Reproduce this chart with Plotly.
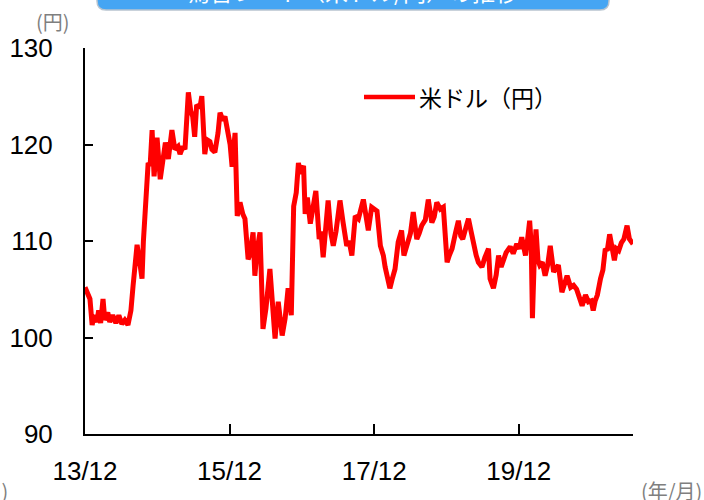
import plotly.graph_objects as go

# ---- data ----
dates = [
    "2013-12-31", "2014-01-15", "2014-01-25", "2014-02-05", "2014-02-15", "2014-03-01",
    "2014-03-10", "2014-03-20", "2014-04-01", "2014-04-10", "2014-04-25", "2014-05-05",
    "2014-05-20", "2014-06-05", "2014-06-20", "2014-07-05", "2014-07-20", "2014-08-05",
    "2014-08-20", "2014-08-31", "2014-09-10", "2014-09-20", "2014-09-30", "2014-10-15",
    "2014-10-22", "2014-11-01", "2014-11-15", "2014-11-25", "2014-12-05", "2014-12-15",
    "2014-12-30", "2015-01-15", "2015-01-25", "2015-02-10", "2015-02-25", "2015-03-15",
    "2015-03-30", "2015-04-15", "2015-04-25", "2015-05-10", "2015-05-20", "2015-05-30",
    "2015-06-06", "2015-06-18", "2015-06-28", "2015-07-08", "2015-07-18", "2015-08-03",
    "2015-08-13", "2015-08-28", "2015-09-08", "2015-09-23", "2015-10-03", "2015-10-18",
    "2015-11-03", "2015-11-13", "2015-11-28", "2015-12-08", "2015-12-23", "2016-01-03",
    "2016-01-13", "2016-01-28", "2016-02-08", "2016-02-22", "2016-03-07", "2016-03-18",
    "2016-04-03", "2016-04-12", "2016-04-28", "2016-05-07", "2016-05-18", "2016-06-02",
    "2016-06-17", "2016-07-02", "2016-07-22", "2016-08-07", "2016-08-17", "2016-09-02",
    "2016-09-22", "2016-10-07", "2016-10-22", "2016-11-07", "2016-11-19", "2016-12-02",
    "2016-12-13", "2016-12-22", "2017-01-08", "2017-01-16", "2017-01-27", "2017-02-11",
    "2017-02-26", "2017-03-11", "2017-03-28", "2017-04-06", "2017-04-17", "2017-05-01",
    "2017-05-12", "2017-05-26", "2017-06-07", "2017-06-21", "2017-07-11", "2017-07-26",
    "2017-08-14", "2017-08-26", "2017-09-09", "2017-09-26", "2017-10-12", "2017-11-06",
    "2017-11-21", "2017-12-01", "2017-12-18", "2018-01-14", "2018-01-31", "2018-02-15",
    "2018-02-24", "2018-03-20", "2018-03-31", "2018-04-15", "2018-05-01", "2018-05-18",
    "2018-05-30", "2018-06-21", "2018-07-02", "2018-07-16", "2018-08-03", "2018-08-15",
    "2018-08-28", "2018-09-15", "2018-09-30", "2018-10-18", "2018-10-30", "2018-11-12",
    "2018-11-30", "2018-12-15", "2019-01-03", "2019-01-14", "2019-01-28", "2019-02-14",
    "2019-03-01", "2019-03-13", "2019-03-23", "2019-04-07", "2019-04-21", "2019-05-04",
    "2019-05-16", "2019-05-30", "2019-06-10", "2019-06-28", "2019-07-13", "2019-07-31",
    "2019-08-08", "2019-08-25", "2019-09-08", "2019-09-20", "2019-10-03", "2019-10-15",
    "2019-10-28", "2019-11-18", "2019-12-03", "2019-12-21", "2020-01-03", "2020-01-15",
    "2020-02-03", "2020-02-12", "2020-02-24", "2020-03-03", "2020-03-09", "2020-03-18",
    "2020-03-27", "2020-04-06", "2020-04-15", "2020-04-28", "2020-05-12", "2020-05-25",
    "2020-06-07", "2020-06-24", "2020-07-07", "2020-07-18", "2020-08-05", "2020-08-18",
    "2020-08-31", "2020-09-18", "2020-10-03", "2020-10-18", "2020-10-31", "2020-11-15",
    "2020-12-02", "2020-12-17", "2020-12-31", "2021-01-10", "2021-01-20", "2021-01-31",
    "2021-02-16", "2021-02-28", "2021-03-12", "2021-03-22", "2021-04-03", "2021-04-14",
    "2021-04-27", "2021-05-07", "2021-05-19", "2021-06-01", "2021-06-14", "2021-06-30",
    "2021-07-12", "2021-07-30",
]
usd_jpy = [
    105.2, 104.6, 104.0, 101.3, 102.3, 101.6,
    102.8, 101.5, 104.0, 101.8, 102.6, 101.6,
    102.3, 101.5, 102.3, 101.4, 101.8, 101.3,
    102.8, 105.4, 108.0, 109.6, 108.3, 106.1,
    110.0, 113.0, 118.1, 117.8, 121.5, 116.7,
    120.7, 116.4, 118.0, 120.2, 118.5, 121.5,
    119.5, 119.8, 119.0, 119.8, 119.5, 123.5,
    125.4, 123.5, 122.9, 120.8, 124.1, 123.8,
    125.0, 119.0, 120.5, 120.3, 119.5, 119.2,
    121.2, 123.3, 122.5, 122.9, 121.0, 120.0,
    117.7, 121.2, 112.6, 114.0, 112.8, 112.3,
    108.1, 108.6, 110.9, 106.4, 109.0, 110.9,
    100.9, 103.0, 107.1, 102.0, 99.9, 103.7,
    100.2, 102.0, 105.1, 102.3, 113.6, 115.0,
    118.1, 117.0, 117.8, 112.8, 114.5, 111.8,
    113.5, 115.2, 110.2, 111.0, 108.3, 111.5,
    114.2, 110.8, 109.5, 111.0, 114.2, 112.0,
    109.5, 110.0, 108.5, 112.6, 112.3, 114.3,
    112.5, 111.1, 113.5, 113.1, 109.5, 108.5,
    107.3, 105.1, 106.0, 107.1, 109.9, 111.1,
    108.5, 110.2, 110.8, 113.0, 110.2, 110.8,
    111.6, 112.2, 114.3, 111.9, 112.5, 114.0,
    113.3, 113.5, 107.8, 108.5, 109.2, 110.8,
    112.1, 110.5, 110.2, 111.3, 112.3, 111.0,
    109.5, 108.5, 107.8, 107.3, 108.3, 109.2,
    106.1, 105.1, 106.5, 108.5, 107.3, 108.1,
    108.8, 109.4, 108.7, 109.7, 109.2, 110.4,
    108.5, 109.9, 112.1, 109.5, 102.0, 108.0,
    111.2, 108.0, 107.5, 107.8, 106.4, 107.5,
    109.5, 106.8, 107.3, 107.5, 104.7, 105.8,
    106.4, 105.2, 105.4, 105.0, 104.2, 103.3,
    104.4, 103.7, 103.8, 102.8, 103.8, 104.4,
    106.1, 107.0, 109.2, 109.0, 110.7, 109.5,
    108.0, 109.2, 109.0, 109.8, 110.2, 111.6,
    110.2, 109.7,
]
tick_dates = ["2013-12-31", "2015-12-31", "2017-12-31", "2019-12-31"]
tick_labels = ["13/12", "15/12", "17/12", "19/12"]
y_ticks = [90, 100, 110, 120, 130]
series_name = "米ドル（円）"
title_text = "為替レート（米ドル/円）の推移"

# ---- layout geometry (pixels) ----
W, H = 704, 500
L, R, T, B = 85, 71, 48, 66
PW, PH = W - L - R, H - T - B


def px(x):
    return (x - L) / PW


def py(y):
    return (H - B - y) / PH


JP = "Noto Sans CJK JP"
NUM = "Liberation Sans"

fig = go.Figure()
fig.add_trace(go.Scatter(
    x=dates, y=usd_jpy, mode="lines", name=series_name,
    line=dict(color="#ff0000", width=5), showlegend=False,
))

fig.update_layout(
    width=W, height=H,
    margin=dict(l=L, r=R, t=T, b=B, pad=0),
    paper_bgcolor="white", plot_bgcolor="white",
    xaxis=dict(
        type="date", range=[dates[0], dates[-1]], automargin=False,
        tickvals=tick_dates, ticktext=tick_labels,
        ticks="inside", ticklen=10, tickwidth=1.5, tickcolor="black",
        showline=True, linecolor="black", linewidth=2,
        showgrid=False, zeroline=False,
        tickfont=dict(family=NUM, size=26, color="black"),
        ticklabelstandoff=13,
    ),
    yaxis=dict(
        range=[90, 130], tickvals=y_ticks, automargin=False,
        ticks="inside", ticklen=8, tickwidth=1.5, tickcolor="black",
        showline=True, linecolor="black", linewidth=2,
        showgrid=False, zeroline=False,
        tickfont=dict(family=NUM, size=26, color="black"),
        ticklabelstandoff=25,
    ),
)

# title banner (partly cut off at the top)
x0, x1 = px(97), px(609)
yb, yt = py(10), py(-30)
rx, ry = 9 / PW, 9 / PH
path = (f"M {x0},{yt} L {x0},{yb + ry} Q {x0},{yb} {x0 + rx},{yb} "
        f"L {x1 - rx},{yb} Q {x1},{yb} {x1},{yb + ry} L {x1},{yt} Z")
fig.add_shape(type="path", xref="paper", yref="paper", path=path,
              fillcolor="#45a5f3", line=dict(color="#b8c4cf", width=1.5), layer="above")
fig.add_annotation(xref="paper", yref="paper", x=px(352), y=py(-9), text=title_text,
                   showarrow=False, xanchor="center", yanchor="middle",
                   font=dict(family=JP, size=23, color="white"))

# legend (drawn manually)
fig.add_shape(type="line", xref="paper", yref="paper", x0=px(364), x1=px(415),
              y0=py(97), y1=py(97), line=dict(color="#ff0000", width=4.5))
fig.add_annotation(xref="paper", yref="paper", x=px(417), y=py(97), text=series_name,
                   showarrow=False, xanchor="left", yanchor="middle",
                   font=dict(family=JP, size=23, color="black"))

# unit labels
grey = "#7f7f7f"
fig.add_annotation(xref="paper", yref="paper", x=px(53), y=py(22), text="(円)",
                   showarrow=False, xanchor="center", yanchor="middle",
                   font=dict(family=JP, size=20, color=grey))
fig.add_annotation(xref="paper", yref="paper", x=px(704), y=py(490), text="(年/月)",
                   showarrow=False, xanchor="right", yanchor="middle",
                   font=dict(family=JP, size=20, color=grey))
fig.add_annotation(xref="paper", yref="paper", x=px(10), y=py(490), text="(年/月)",
                   showarrow=False, xanchor="right", yanchor="middle",
                   font=dict(family=JP, size=20, color=grey))

fig.write_html("out.html", config={"displayModeBar": False},
               post_script="document.body.style.margin='0';")
